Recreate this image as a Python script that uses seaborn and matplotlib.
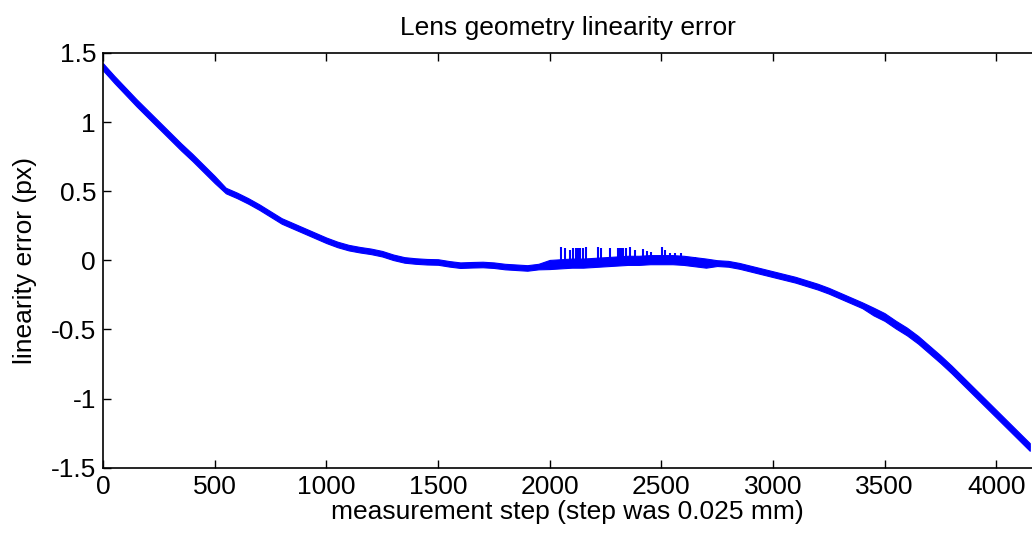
import numpy as np
import pandas as pd
import matplotlib
matplotlib.use("Agg")
import matplotlib.pyplot as plt
import seaborn as sns

# ---- data ----
steps = list(range(0, 4151, 50))
center = [1.40, 1.31, 1.225, 1.14, 1.06, 0.98, 0.90, 0.82, 0.745, 0.665,
          0.585, 0.505, 0.47, 0.43, 0.385, 0.335, 0.285, 0.25, 0.215, 0.18,
          0.145, 0.115, 0.092, 0.077, 0.065, 0.048, 0.022, 0.003, -0.005, -0.01,
          -0.012, -0.025, -0.035, -0.032, -0.03, -0.035, -0.045, -0.05, -0.055, -0.045,
          -0.03, -0.025, -0.02, -0.02, -0.015, -0.01, -0.005, 0.0, 0.0, 0.005,
          0.005, 0.005, 0.0, -0.01, -0.02, -0.02, -0.025, -0.04, -0.06, -0.08,
          -0.10, -0.12, -0.14, -0.165, -0.19, -0.22, -0.255, -0.29, -0.325, -0.37,
          -0.41, -0.465, -0.515, -0.575, -0.645, -0.715, -0.79, -0.87, -0.95, -1.03,
          -1.11, -1.19, -1.27, -1.35]
halfwidth = ([0.026] * 11 + [0.02] * 29 + [0.033] * 15 + [0.021] * 14 + [0.028] * 15)

spike_steps = [2049, 2068, 2091, 2106, 2117, 2128, 2138, 2148, 2164, 2216, 2231, 2269,
               2305, 2314, 2322, 2329, 2344, 2359, 2381, 2419, 2434, 2456, 2501, 2516,
               2538, 2560, 2590, 2613, 2650]
spike_tops = [0.098, 0.087, 0.075, 0.087, 0.087, 0.087, 0.087, 0.087, 0.098, 0.098, 0.09, 0.09,
              0.09, 0.09, 0.09, 0.087, 0.091, 0.098, 0.075, 0.082, 0.067, 0.062, 0.098, 0.075,
              0.051, 0.051, 0.051, 0.026, 0.026]

xticks = [0, 500, 1000, 1500, 2000, 2500, 3000, 3500, 4000]
yticks = [-1.5, -1, -0.5, 0, 0.5, 1, 1.5]
ytick_labels = ["-1.5", "-1", "-0.5", "0", "0.5", "1", "1.5"]

# ---- figure ----
sns.set_theme(style="white")
plt.rcParams["font.family"] = ["Liberation Sans", "DejaVu Sans"]
plt.rcParams["text.color"] = "black"
plt.rcParams["axes.labelcolor"] = "black"

W, H = 1032, 538
fig = plt.figure(figsize=(W / 100, H / 100), dpi=100)
left, right, top, bottom = 103, 1032, 53, 467.7
ax = fig.add_axes([left / W, 1 - bottom / H, (right - left) / W, (bottom - top) / H])

c = np.array(center)
h = np.array(halfwidth)
df = pd.DataFrame({
    "step": np.concatenate([steps, steps]),
    "err": np.concatenate([c - h, c + h]),
})
blue = "#0000ff"
sns.lineplot(data=df, x="step", y="err", estimator="mean", errorbar=("pi", 100),
             color=blue, linewidth=1, err_kws={"alpha": 1, "linewidth": 0.8}, ax=ax)

base = np.interp(spike_steps, steps, center) - 0.03
ax.vlines(spike_steps, base, spike_tops, color=blue, linewidth=1.5)

ax.set_xlim(0, 4160)
ax.set_ylim(-1.5, 1.5)
ax.set_xticks(xticks)
ax.set_xticklabels([str(t) for t in xticks])
ax.set_yticks(yticks)
ax.set_yticklabels(ytick_labels)

fs = 19
ax.tick_params(direction="in", length=6, width=1, top=True, bottom=True, left=True,
               right=False, labelsize=fs, colors="black", pad=5)
for s in ["left", "bottom", "top"]:
    ax.spines[s].set_color("black")
    ax.spines[s].set_linewidth(1.2)
ax.spines["right"].set_visible(False)

ax.set_title("Lens geometry linearity error", fontsize=fs, pad=13, color="black")
ax.set_xlabel("measurement step (step was 0.025 mm)", fontsize=fs, labelpad=1, color="black")
ax.set_ylabel("linearity error (px)", fontsize=fs, labelpad=10, color="black")

fig.savefig("out.png", dpi=100)
